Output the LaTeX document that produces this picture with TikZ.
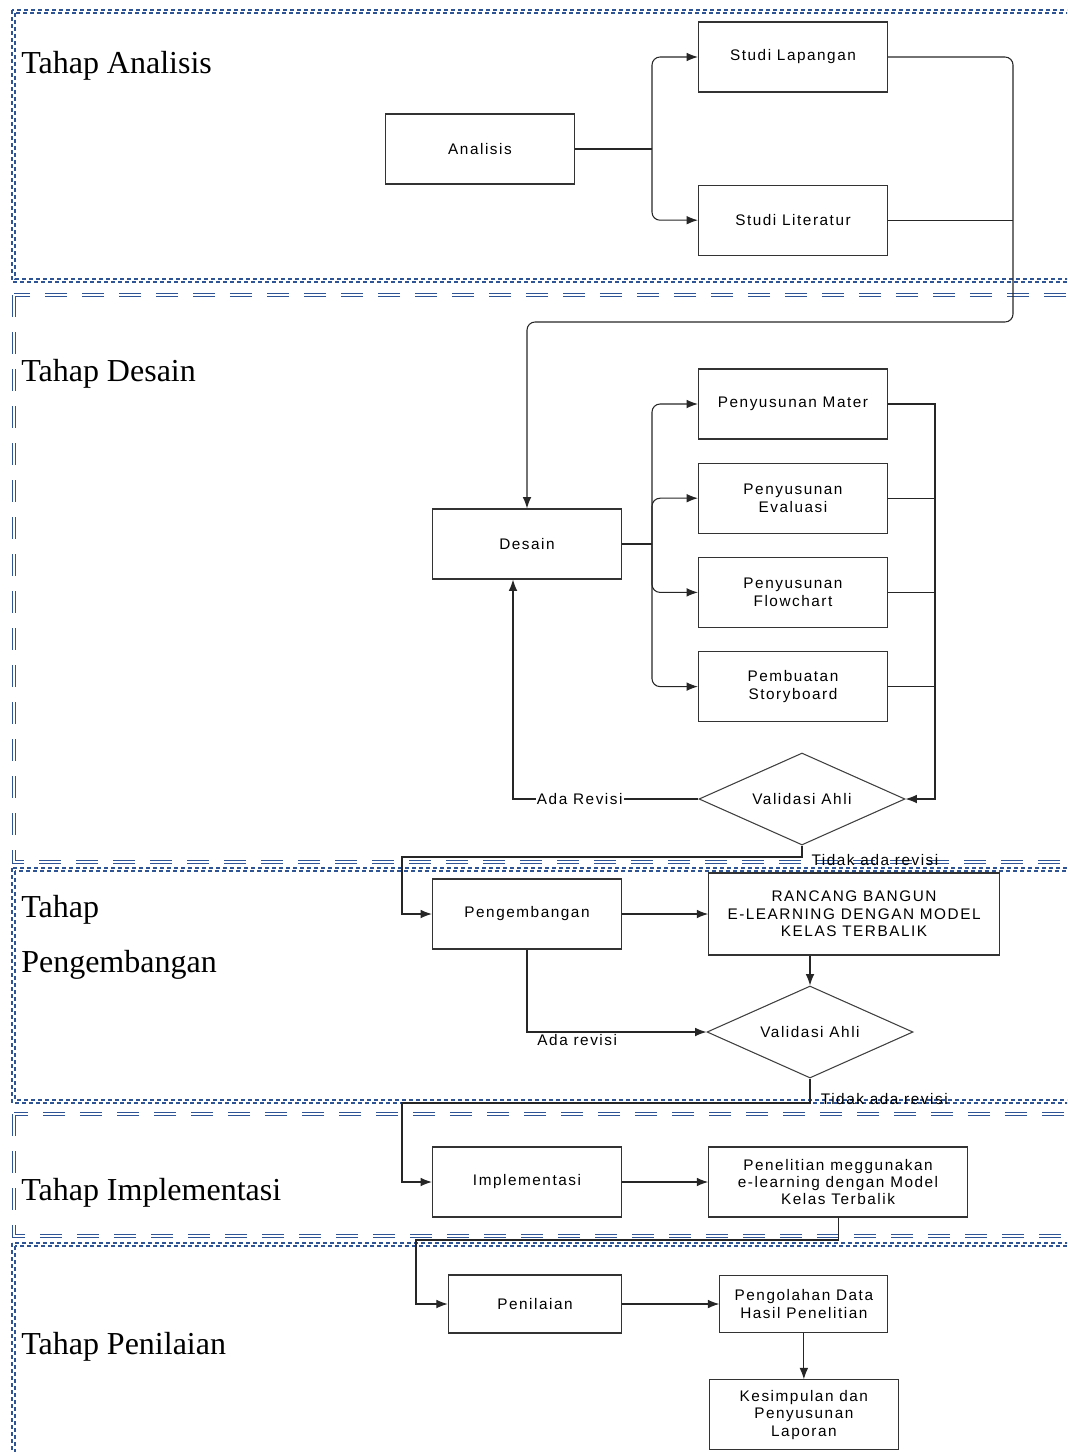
\documentclass[tikz,border=0pt]{standalone}
\usepackage{fontspec}
\setmainfont{Liberation Serif}
\newfontfamily\boxfont[LetterSpace=10]{Liberation Sans}
\usetikzlibrary{positioning, shapes.geometric, arrows.meta}
\definecolor{secblue}{RGB}{47,84,150}

\begin{document}
\begin{tikzpicture}[
        x=0.75pt, y=-0.75pt,
        stage_box/.style={draw=black!80, line width=0.9pt, fill=white, minimum width=141.75pt, minimum height=52.5pt, align=center, inner sep=2pt, font={\boxfont\fontsize{11.5}{13}\selectfont}},
        check_node/.style={diamond, aspect=2.2, draw=black!75, line width=0.8pt, fill=white, minimum width=154.5pt, minimum height=69pt, inner sep=0pt, font={\boxfont\fontsize{11.5}{13}\selectfont}},
        flow_line/.style={draw=black!85, line width=0.8pt},
        flow_arrow/.style={flow_line, -{Latex[length=8.5pt, width=6.5pt]}},
        flow_label/.style={font={\boxfont\fontsize{11.5}{13}\selectfont}, fill=white, inner sep=1pt},
        phase_title/.style={anchor=base west, inner sep=0pt, font={\fontsize{24}{28}\selectfont}},
        phase_dotted/.style={draw=secblue, line width=0.9pt, dash pattern=on 3pt off 2.25pt},
        phase_dashed/.style={draw=secblue, line width=0.8pt, double=white, double distance=1.4pt, dash pattern=on 16.5pt off 11.25pt}
        ]
            \clip (0,0) rectangle (1067,1452);

            % phase frames (dotted ones drawn as two thin lines)
            \draw[phase_dotted] (12,10) rectangle (1120,282) (15,13) rectangle (1120,279);
            \draw[phase_dashed] (14,295) rectangle (1120,862);
            \draw[phase_dotted] (12,868) rectangle (1120,1103) (15,871) rectangle (1120,1100);
            \draw[phase_dashed] (14,1114) rectangle (1120,1236);
            \draw[phase_dotted] (12,1243) rectangle (1120,1500) (15,1246) rectangle (1120,1500);

            % phase titles
            \node[phase_title] (title_analisis) at (21,74)   {Tahap Analisis};
            \node[phase_title] (title_desain)   at (21,381)  {Tahap Desain};
            \node[phase_title] (title_dev_a)    at (21,917)  {Tahap};
            \node[phase_title] (title_dev_b)    at (21,972)  {Pengembangan};
            \node[phase_title] (title_impl)     at (21,1200) {Tahap Implementasi};
            \node[phase_title] (title_nilai)    at (21,1354) {Tahap Penilaian};

            % analisis
            \node[stage_box] (analisis)  at (480,149)                 {Analisis};
            \node[stage_box] (lapangan)  at (793,57)                  {Studi Lapangan};
            \node[stage_box] (literatur) [below=69pt of lapangan]     {Studi Literatur};
            % desain
            \node[stage_box] (desain)     at (527,544)                {Desain};
            \node[stage_box] (mater)      at (793,404)                {Penyusunan Mater};
            \node[stage_box] (evaluasi)   [below=17.25pt of mater]    {Penyusunan\\Evaluasi};
            \node[stage_box] (flowchart)  [below=17.25pt of evaluasi] {Penyusunan\\Flowchart};
            \node[stage_box] (storyboard) [below=17.25pt of flowchart]{Pembuatan\\Storyboard};
            \node[check_node] (valid_a)   at (802,799)                {Validasi Ahli};
            % pengembangan
            \node[stage_box] (pengembangan) at (527,914)              {Pengembangan};
            \node[stage_box, minimum width=218pt, minimum height=61.5pt] (rancang) [right=64.5pt of pengembangan] {RANCANG BANGUN\\E-LEARNING DENGAN MODEL\\KELAS TERBALIK};
            \node[check_node] (valid_b)   at (810,1032)               {Validasi Ahli};
            % implementasi
            \node[stage_box] (implementasi) at (527,1182)             {Implementasi};
            \node[stage_box, minimum width=194pt] (penelitian) [right=64.5pt of implementasi] {Penelitian meggunakan\\e-learning dengan Model\\Kelas Terbalik};
            % penilaian
            \node[stage_box, minimum width=130pt, minimum height=43.5pt] (penilaian) at (535,1304) {Penilaian};
            \node[stage_box, minimum width=126pt, minimum height=43pt] (pengolahan) [right=72.75pt of penilaian] {Pengolahan Data\\Hasil Penelitian};
            \node[stage_box] (kesimpulan) [below=34.5pt of pengolahan] {Kesimpulan dan\\Penyusunan\\Laporan};

            % helper points
            \coordinate (split_a) at (652,149);
            \coordinate (turn_a)  at (1013,322);
            \coordinate (split_d) at (652,544);
            \coordinate (merge_d) at (935,799);
            \coordinate (drop_a)  at (402,857);
            \coordinate (drop_b)  at (402,1103);
            \coordinate (drop_c)  at (416,1240);

            % lines analisis
            \draw[flow_line] (analisis) -- (split_a);
            \draw[flow_arrow, rounded corners=6pt] (split_a) |- (lapangan);
            \draw[flow_arrow, rounded corners=6pt] (split_a) |- (literatur);
            \draw[flow_arrow, rounded corners=6pt] (lapangan.east) -| (turn_a) -| (desain.north);
            \draw[flow_line] (literatur.east) -- (literatur.east -| turn_a);

            % lines desain
            \draw[flow_line] (desain) -- (split_d);
            \foreach \n in {mater, evaluasi, flowchart, storyboard}
                \draw[flow_arrow, rounded corners=6pt] (split_d) |- (\n);
            \draw[flow_arrow] (mater.east) -| (merge_d) -- (valid_a.east);
            \foreach \n in {evaluasi, flowchart, storyboard}
                \draw[flow_line] (\n.east) -- (\n.east -| merge_d);
            \draw[flow_arrow] (valid_a.west) -| node[flow_label, pos=0.32] (lbl_ada_a) {Ada Revisi} ([xshift=-10.5pt]desain.south);
            \draw[flow_arrow] (valid_a.south) |- (drop_a) |- (pengembangan);
            \node[flow_label, anchor=west, fill=none] (lbl_tidak_a) at ([xshift=6pt, yshift=-11pt]valid_a.south) {Tidak ada revisi};

            % lines pengembangan
            \draw[flow_arrow] (pengembangan) -- (rancang);
            \draw[flow_arrow] (valid_b.north |- rancang.south) -- (valid_b.north);
            \draw[flow_arrow] (pengembangan.south) |- node[flow_label, pos=0.64, yshift=-6pt] (lbl_ada_b) {Ada revisi} (valid_b.west);
            \draw[flow_arrow] (valid_b.south) |- (drop_b) |- (implementasi);
            \node[flow_label, anchor=west, fill=none] (lbl_tidak_b) at ([xshift=7pt, yshift=-15pt]valid_b.south) {Tidak ada revisi};

            % lines implementasi + penilaian
            \draw[flow_arrow] (implementasi) -- (penelitian);
            \draw[flow_arrow] (penelitian.south) |- (drop_c) |- (penilaian);
            \draw[flow_arrow] (penilaian) -- (pengolahan);
            \draw[flow_arrow] (pengolahan) -- (kesimpulan);
        \end{tikzpicture}
\end{document}
